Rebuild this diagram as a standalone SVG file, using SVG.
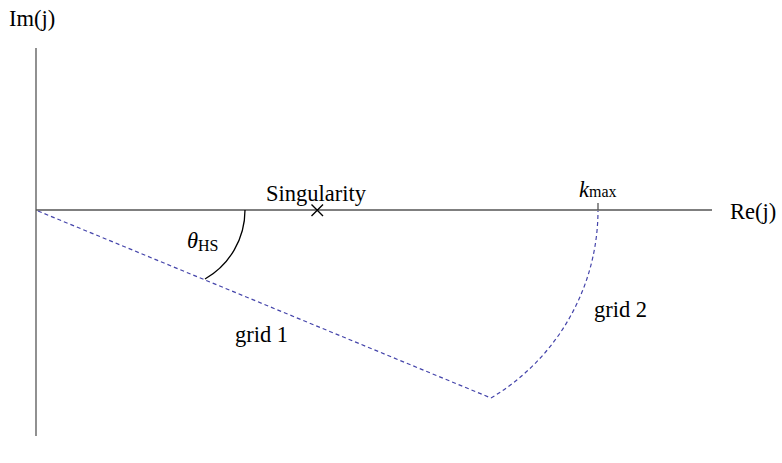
<svg xmlns="http://www.w3.org/2000/svg" width="782" height="463" viewBox="0 0 782 463">
<style>
text{font-family:'Liberation Serif','DejaVu Serif',serif;font-size:22.5px;fill:#000}
.sub{font-size:16px}
.ax{stroke:#555;stroke-width:1.3;fill:none}
.grid{stroke:#4444aa;stroke-width:1.2;stroke-dasharray:4,3;fill:none}
</style>
<rect width="782" height="463" fill="#fff"/>
<g id="axes">
<line class="ax" x1="36" y1="48" x2="36" y2="436"/>
<line class="ax" x1="36" y1="210" x2="712" y2="210"/>
<line class="ax" x1="598" y1="203" x2="598" y2="210"/>
</g>
<g id="connectors">
<line class="grid" x1="38" y1="211" x2="491" y2="398"/>
<path class="grid" d="M491,398 A218.7,218.7 0 0 0 598,211"/>
<path d="M245,210 A79.5,79.5 0 0 1 205,279" stroke="#000" stroke-width="1.3" fill="none"/>
</g>
<g id="singularity">
<path d="M311.5,204.5 L323,216 M323,204.5 L311.5,216" stroke="#000" stroke-width="1.4"/>
<text x="316" y="201" text-anchor="middle">Singularity</text>
</g>
<g id="labels">
<text x="9" y="26">Im(j)</text>
<text x="730" y="219">Re(j)</text>
<text x="579" y="197"><tspan font-style="italic">k</tspan><tspan class="sub">max</tspan></text>
<text x="187" y="248"><tspan font-style="italic">θ</tspan><tspan class="sub" dy="3">HS</tspan></text>
<text x="235" y="342">grid 1</text>
<text x="594" y="317">grid 2</text>
</g>
</svg>
